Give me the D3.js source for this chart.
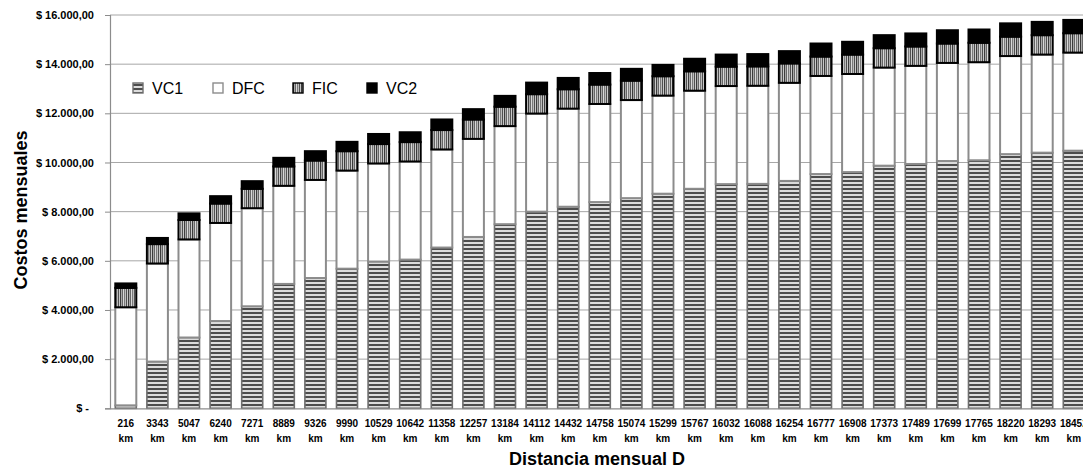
<!DOCTYPE html>
<html>
<head>
<meta charset="utf-8">
<script src="https://cdn.jsdelivr.net/npm/d3@7"></script>
<style>
  html, body { margin: 0; padding: 0; background: #fff; }
  svg { display: block; }
</style>
</head>
<body>
<svg id="chart" width="1083" height="468"></svg>
<script>
// Monthly distance per case (km)
const distances = [216, 3343, 5047, 6240, 7271, 8889, 9326, 9990, 10529, 10642, 11358,
  12257, 13184, 14112, 14432, 14758, 15074, 15299, 15767, 16032, 16088, 16254,
  16777, 16908, 17373, 17489, 17699, 17765, 18220, 18293, 18452];

// Monthly cost components ($)
const vc1 = [120, 1900, 2880, 3550, 4150, 5060, 5300, 5680, 5970, 6050, 6540,
  6970, 7490, 8000, 8200, 8390, 8550, 8730, 8930, 9120, 9130, 9250,
  9530, 9610, 9870, 9940, 10060, 10090, 10340, 10400, 10480];
const dfc = [3990, 3990, 3990, 3990, 3990, 3990, 3990, 3990, 3990, 3990, 3990,
  3990, 3990, 3990, 3990, 3990, 3990, 3990, 3990, 3990, 3990, 3990,
  3990, 3990, 3990, 3990, 3990, 3990, 3990, 3990, 3990];
const fic = [790, 790, 790, 790, 790, 790, 790, 790, 790, 790, 790,
  790, 790, 790, 790, 790, 790, 790, 790, 790, 790, 790,
  790, 790, 790, 790, 790, 790, 790, 790, 790];
const vc2 = [180, 250, 270, 300, 310, 350, 380, 380, 410, 400, 430,
  420, 440, 470, 460, 470, 480, 460, 510, 490, 500, 500,
  530, 520, 530, 530, 540, 540, 540, 540, 540];

const seriesNames = ["VC1", "DFC", "FIC", "VC2"];
const yTicks = [0, 2000, 4000, 6000, 8000, 10000, 12000, 14000, 16000];

const svg = d3.select("#chart");
const FONT = "'Liberation Sans', Arial, sans-serif";

const plot = { left: 110, top: 15, bottom: 408.3, right: 1089.6 };

const rows = distances.map((d, i) => ({ dist: d, VC1: vc1[i], DFC: dfc[i], FIC: fic[i], VC2: vc2[i] }));
const stacked = d3.stack().keys(seriesNames)(rows);

const x = d3.scaleBand()
  .domain(distances)
  .range([plot.left, plot.right])
  .paddingInner(0.335)
  .paddingOuter(0.1675);

const y = d3.scaleLinear().domain([0, 16000]).range([plot.bottom, plot.top]);

// Fill patterns
const defs = svg.append("defs");
const pH = defs.append("pattern").attr("id", "pat-vc1")
  .attr("patternUnits", "userSpaceOnUse").attr("width", 4).attr("height", 4);
pH.append("rect").attr("width", 4).attr("height", 4).attr("fill", "#dcdcdc");
pH.append("rect").attr("width", 4).attr("height", 2).attr("fill", "#4d4d4d");

const ficCols = ["#3c3c3c", "#a8a8a8", "#666", "#d8d8d8", "#7a7a7a", "#bdbdbd", "#505050", "#c8c8c8"];
const pV = defs.append("pattern").attr("id", "pat-fic")
  .attr("patternUnits", "userSpaceOnUse").attr("width", ficCols.length).attr("height", 4);
ficCols.forEach((c, i) => pV.append("rect").attr("x", i).attr("width", 1).attr("height", 4).attr("fill", c));

const styles = {
  VC1: { fill: "url(#pat-vc1)", stroke: "#6e6e6e", sw: 1.6 },
  DFC: { fill: "#ffffff", stroke: "#8c8c8c", sw: 2 },
  FIC: { fill: "url(#pat-fic)", stroke: "#000000", sw: 2 },
  VC2: { fill: "#000000", stroke: "#000000", sw: 2 }
};

// Gridlines
svg.append("g").selectAll("line").data(yTicks.filter(t => t > 0)).join("line")
  .attr("x1", plot.left).attr("x2", plot.right)
  .attr("y1", d => y(d)).attr("y2", d => y(d))
  .attr("stroke", "#a6a6a6").attr("stroke-width", 1);

// Y axis
const loc = d3.formatLocale({ decimal: ",", thousands: ".", grouping: [3], currency: ["$ ", ""] });
const money = loc.format("$,.2f");
const yAxis = svg.append("g").attr("transform", `translate(${plot.left},0)`)
  .call(d3.axisLeft(y).tickValues(yTicks).tickSize(5).tickPadding(11)
    .tickFormat(d => d === 0 ? "$ -" : money(d)));
yAxis.select(".domain").attr("stroke", "#8c8c8c").attr("stroke-width", 1.2);
yAxis.selectAll(".tick line").attr("stroke", "#8c8c8c");
yAxis.selectAll(".tick text")
  .attr("font-family", FONT).attr("font-size", 11).attr("font-weight", "bold").attr("fill", "#000")
  .attr("dx", d => d === 0 ? -5 : 0);

// Bars
const layers = svg.append("g").selectAll("g").data(stacked).join("g");
layers.selectAll("rect").data(s => s.map(v => ({ key: s.key, v }))).join("rect")
  .attr("x", d => x(d.v.data.dist))
  .attr("width", x.bandwidth())
  .attr("y", d => y(d.v[1]))
  .attr("height", d => y(d.v[0]) - y(d.v[1]))
  .attr("fill", d => styles[d.key].fill)
  .attr("stroke", d => styles[d.key].stroke)
  .attr("stroke-width", d => styles[d.key].sw);

// X axis
const xAxis = svg.append("g").attr("transform", `translate(0,${plot.bottom})`)
  .call(d3.axisBottom(x).tickSize(0).tickPadding(0).tickFormat(() => ""));
xAxis.select(".domain").attr("stroke", "#8c8c8c").attr("stroke-width", 1.2);
xAxis.selectAll(".tick text").each(function (d) {
  const t = d3.select(this)
    .attr("font-family", FONT).attr("font-size", 10).attr("font-weight", "bold")
    .attr("fill", "#000").attr("y", 0).attr("dy", null);
  t.append("tspan").attr("x", 0).attr("y", 18.5).text(d);
  t.append("tspan").attr("x", 0).attr("y", 34).text("km");
});

// Axis titles
svg.append("text")
  .attr("transform", "translate(27,210) rotate(-90)")
  .attr("text-anchor", "middle")
  .attr("font-family", FONT).attr("font-size", 18).attr("font-weight", "bold")
  .text("Costos mensuales");

svg.append("text")
  .attr("x", 597).attr("y", 465)
  .attr("text-anchor", "middle")
  .attr("font-family", FONT).attr("font-size", 18).attr("font-weight", "bold")
  .text("Distancia mensual D");

// Legend
const legendX = [133, 213, 293, 367];
const legend = svg.append("g").selectAll("g").data(seriesNames).join("g")
  .attr("transform", (d, i) => `translate(${legendX[i]},88)`);
legend.append("rect")
  .attr("x", 0).attr("y", -5).attr("width", 10).attr("height", 10)
  .attr("fill", d => styles[d].fill)
  .attr("stroke", d => styles[d].stroke)
  .attr("stroke-width", 1.4);
legend.append("text")
  .attr("x", 19).attr("y", 0).attr("dy", "0.36em")
  .attr("font-family", FONT).attr("font-size", 16)
  .text(d => d);
</script>
</body>
</html>
